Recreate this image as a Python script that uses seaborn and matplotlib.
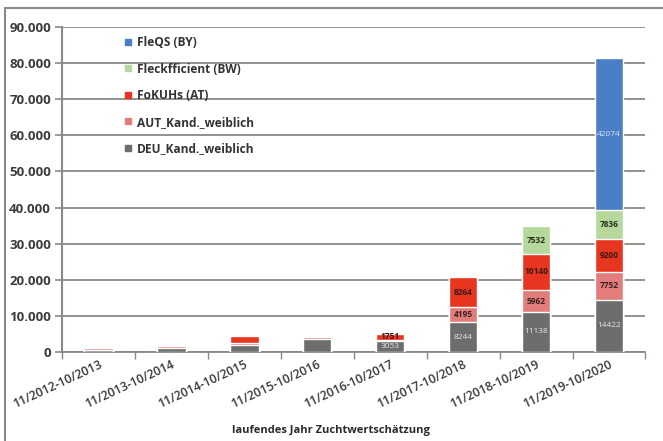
import matplotlib
matplotlib.use("Agg")
import matplotlib.pyplot as plt
from matplotlib.lines import Line2D
from matplotlib.ticker import FuncFormatter, FixedLocator
import numpy as np
import pandas as pd
import seaborn as sns

# Zeiträume der Zuchtwertschätzung
periods = ["11/2012-10/2013", "11/2013-10/2014", "11/2014-10/2015",
           "11/2015-10/2016", "11/2016-10/2017", "11/2017-10/2018",
           "11/2018-10/2019", "11/2019-10/2020"]

# Anzahl Tiere je Quelle (gestapelt, von unten nach oben)
deu_kand = [650, 1150, 2000, 3600, 3053, 8244, 11138, 14422]
aut_kand = [400, 450, 400, 500, 250, 4195, 5962, 7752]
fokuhs = [0, 0, 2000, 300, 1751, 8264, 10140, 9200]
fleckfficient = [0, 0, 0, 0, 0, 0, 7532, 7836]
fleqs = [0, 0, 0, 0, 0, 0, 0, 42074]

# Beschriftete Segmente (Zeitraum-Indizes)
labels_deu = [4, 5, 6, 7]
labels_aut = [5, 6, 7]
labels_fok = [4, 5, 6, 7]
labels_fle = [6, 7]
labels_fqs = [7]

series = [
    ("DEU_Kand._weiblich", deu_kand, "#6d6d6d", "#e6e6e6", False, labels_deu),
    ("AUT_Kand._weiblich", aut_kand, "#e27d7b", "#3a2222", True, labels_aut),
    ("FoKUHs (AT)", fokuhs, "#e8351f", "#3a1a14", True, labels_fok),
    ("Fleckfficient (BW)", fleckfficient, "#b6d89c", "#2a3320", True, labels_fle),
    ("FleQS (BY)", fleqs, "#4a7fc5", "#d8e4f4", False, labels_fqs),
]

sns.set_theme(style="white")
plt.rcParams["font.family"] = ["Open Sans", "DejaVu Sans"]

fig = plt.figure(figsize=(6.63, 4.41), dpi=100)
ax = fig.add_axes([0.0935, 0.2018, 0.880, 0.737])

# kumulierte Höhen, höchste Schicht zuerst zeichnen
cum = np.cumsum([np.array(s[1], dtype=float) for s in series], axis=0)
for i in range(len(series) - 1, -1, -1):
    df = pd.DataFrame({"period": periods, "value": cum[i]})
    sns.barplot(data=df, x="period", y="value", color=series[i][2],
                width=0.39, saturation=1, ax=ax, zorder=3, order=periods)

# Wertbeschriftungen in den Segmenten
for i, (name, vals, col, tcol, bold, idx) in enumerate(series):
    bottom = cum[i - 1] if i > 0 else np.zeros(len(periods))
    for j in idx:
        ax.text(j, bottom[j] + vals[j] / 2, f"{vals[j]}", ha="center",
                va="center", fontsize=6, color=tcol, zorder=5,
                fontweight="bold" if bold else "normal")

ax.set_ylim(0, 90000)
ax.set_xlim(-0.5, len(periods) - 0.5)
ax.yaxis.set_major_locator(FixedLocator(np.arange(0, 90001, 10000)))
ax.yaxis.set_major_formatter(FuncFormatter(lambda v, p: f"{int(v):,}".replace(",", ".")))
ax.grid(axis="y", color="#8e8884", linewidth=1.3, zorder=0)
ax.grid(axis="x", visible=False)

for side in ["top", "right"]:
    ax.spines[side].set_visible(False)
ax.spines["left"].set_color("#8e8884")
ax.spines["left"].set_linewidth(1.5)
ax.spines["bottom"].set_color("#8e8884")
ax.spines["bottom"].set_linewidth(1.3)

ax.tick_params(axis="y", which="major", length=5, width=1.2, color="#8e8884",
               labelsize=9.5, labelcolor="#3c3c3c", pad=3, left=True)
for t in ax.get_yticklabels():
    t.set_fontweight("bold")

# Teilstriche zwischen den Kategorien
ax.set_xticks(np.arange(-0.5, len(periods), 1.0), minor=True)
ax.tick_params(axis="x", which="minor", length=5, width=1.0, color="#8e8884",
               bottom=True)
ax.tick_params(axis="x", which="major", length=0, pad=4)
ax.set_xticks(range(len(periods)))
ax.set_xticklabels(periods, rotation=25, ha="right", rotation_mode="anchor",
                   fontsize=8.8, color="#3a3a3a", fontweight="semibold")
ax.set_ylabel("")
ax.set_xlabel("laufendes Jahr Zuchtwertschätzung", fontsize=8,
              fontweight="bold", color="#2a2a2a")
ax.xaxis.label.set_va("center")
ax.xaxis.set_label_coords(0.461, -0.243)

# Legende
handles = [Line2D([0], [0], marker="s", linestyle="", markersize=5,
                  markerfacecolor=s[2], markeredgecolor=s[2]) for s in series[::-1]]
leg = ax.legend(handles, [s[0] for s in series[::-1]], loc="upper left",
                bbox_to_anchor=(0.085, 1.005), frameon=False, fontsize=8.6,
                labelspacing=1.13, handletextpad=0.2, handlelength=1.0)
for t in leg.get_texts():
    t.set_color("#333333")
    t.set_fontweight("bold")

# Rahmen der Abbildung
fig.add_artist(Line2D([5 / 663, 5 / 663], [0, 1 - 8 / 441], color="#8a8a8a",
                      linewidth=1.5, transform=fig.transFigure))
fig.add_artist(Line2D([5 / 663, 1], [1 - 8 / 441, 1 - 8 / 441], color="#8a8a8a",
                      linewidth=1.5, transform=fig.transFigure))

fig.savefig("out.png", dpi=100, facecolor="white")
